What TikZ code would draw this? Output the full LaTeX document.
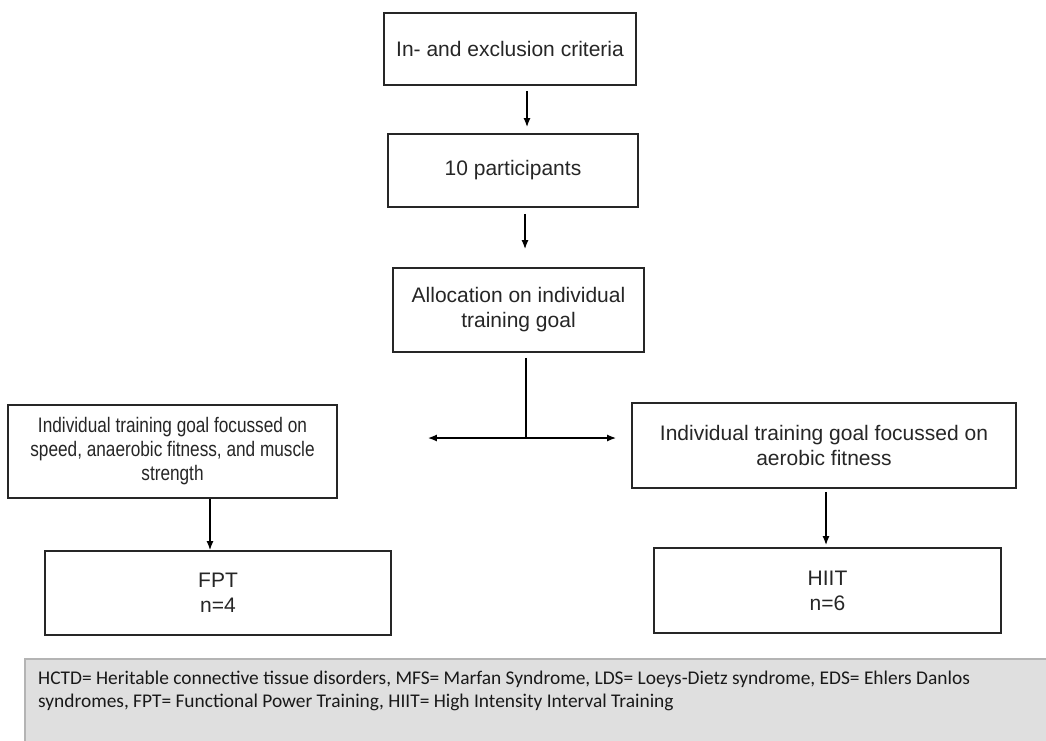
\documentclass[tikz,border=0pt]{standalone}
\usepackage{fontspec}
\setmainfont{Liberation Sans}
\newfontfamily\notefont{Carlito}
\newfontfamily\narrowfont[FakeStretch=0.82]{Liberation Sans}
\usetikzlibrary{arrows.meta}
\definecolor{boxline}{HTML}{262626}
\definecolor{notefill}{HTML}{DFDFDF}
\definecolor{noteline}{HTML}{B4B4B4}
\tikzset{
  box/.style={draw=boxline, line width=1.8pt, rectangle, align=center, inner sep=0pt,
    font=\fontsize{21}{25}\selectfont, text=black!85},
  arr/.style={draw=black, line width=1.4pt, -{Latex[length=9pt,width=7pt]}},
  plain/.style={draw=black, line width=1.4pt},
}
\begin{document}
\begin{tikzpicture}[x=1pt,y=-1pt]
\useasboundingbox (0,0) rectangle (1046,740);
\fill[white] (0,0) rectangle (1046,740);
\node[box, minimum width=252pt, minimum height=72pt] (b1) at (510,49) {In- and exclusion criteria};
\node[box, minimum width=250pt, minimum height=73pt] (b2) at (513,170.5) {10 participants};
\node[box, minimum width=251pt, minimum height=84pt] (b3) at (518.5,310) {Allocation on individual\\training goal};
\node[box, minimum width=329pt, minimum height=93pt, font=\narrowfont\fontsize{21}{24}\selectfont] (left) at (172.5,451.5) {Individual training goal focussed on\\speed, anaerobic fitness, and muscle\\strength};
\node[box, minimum width=384pt, minimum height=85pt] (right) at (824,445.5) {Individual training goal focussed on\\aerobic fitness};
\node[box, minimum width=346pt, minimum height=84pt] (fpt) at (218,593) {FPT\\n=4};
\node[box, minimum width=347pt, minimum height=85pt] (hiit) at (827.5,590.5) {HIIT\\n=6};
\coordinate (split) at (526,438);
\draw[arr] ([xshift=17pt,yshift=-5pt]b1.south) -- ([xshift=14pt,yshift=6pt]b2.north);
\draw[arr] ([xshift=12pt,yshift=-6pt]b2.south) -- ([xshift=6.5pt,yshift=18pt]b3.north);
\draw[plain] ([xshift=7.5pt,yshift=-5pt]b3.south) -- (split);
\draw[arr, shorten >=90pt] (split) -- (split -| left.east);
\draw[arr, shorten >=15pt] (split) -- (split -| right.west);
\draw[arr] ([xshift=37.5pt]left.south) -- ([xshift=-8pt]fpt.north);
\draw[arr] ([xshift=2pt,yshift=-3pt]right.south) -- ([xshift=-1.5pt,yshift=2pt]hiit.north);
\draw[draw=noteline, fill=notefill, line width=1.2pt] (25,659) rectangle (1060,760);
\node[anchor=base west, align=left, inner sep=0pt, font=\notefont\fontsize{19.4}{23.5}\selectfont, text=black!90] (note) at (38,707.5)
{HCTD= Heritable connective tissue disorders, MFS= Marfan Syndrome, LDS= Loeys-Dietz syndrome, EDS= Ehlers Danlos\\syndromes, FPT= Functional Power Training, HIIT= High Intensity Interval Training};
\end{tikzpicture}
\end{document}
